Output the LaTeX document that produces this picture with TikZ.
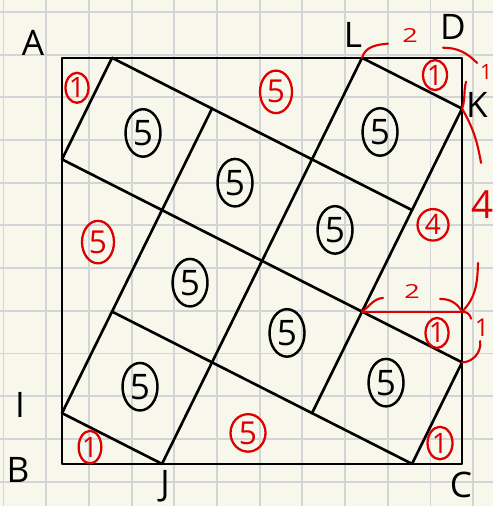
\documentclass[tikz,border=0pt]{standalone}
\usepackage{fontspec}
\setmainfont{Open Sans}
\usepackage{xcolor}
\usepackage{tikz}
\usetikzlibrary{positioning, shapes.geometric}
\definecolor{paper}{RGB}{248,247,235}
\definecolor{gridgray}{RGB}{212,212,214}
\definecolor{penred}{RGB}{222,0,0}

\begin{document}
\begin{tikzpicture}[x=1cm, y=1.015cm,
    pen/.style={line width=1.5pt, line cap=round, line join=round},
    redpen/.style={draw=penred, line width=1.2pt, line cap=round},
    gridline/.style={draw=gridgray, line width=1.1pt},
    lbl/.style={font=\fontsize{20}{20}\selectfont, inner sep=1pt},
    ring/.style={draw, ellipse, line width=1.4pt, inner sep=0pt, minimum width=0.7cm, minimum height=0.95cm, font=\fontsize{20}{20}\selectfont},
    redring/.style={draw=penred, text=penred, ellipse, line width=1.3pt, inner sep=0pt, font=\fontsize{16}{16}\selectfont},
    redtxt/.style={text=penred, inner sep=0pt}]
                \fill[paper] (-1.24,-0.83) rectangle (8.62,9.14);
                \useasboundingbox (-1.24,-0.83) rectangle (8.62,9.14);
                \foreach \k in {0,...,11} \draw[gridline] ({-1.17+0.854*\k},-0.83) -- ++(0,9.97);
                \foreach \k in {0,...,11} \draw[gridline] (-1.24,{8.906-0.8414*\k}) -- ++(9.86,0);

                % corners and points on the sides
                \coordinate (A) at (0,8);
                \coordinate (B) at (0,0);
                \coordinate (C) at (8,0);
                \coordinate (D) at (8,8);
                \coordinate (L) at (6,8);
                \coordinate (K) at (8,7);
                \coordinate (I) at (0,1);
                \coordinate (J) at (2,0);
                \coordinate (p18) at (1,8);
                \coordinate (p06) at (0,6);
                \coordinate (p82) at (8,2);
                \coordinate (p70) at (7,0);
                % inner points
                \coordinate (p75) at (7,5);
                \coordinate (p13) at (1,3);
                \coordinate (p37) at (3,7);
                \coordinate (p51) at (5,1);
                \coordinate (p63) at (6,3);
                \coordinate (q83) at (8,3);

                \draw[pen] (A) rectangle (C);
                \draw[pen] (p18) -- (p75);
                \draw[pen] (p06) -- (p82);
                \draw[pen] (p13) -- (p70);
                \draw[pen] (I) -- (J);
                \draw[pen] (L) -- (K);
                \draw[pen] (p06) -- (p18);
                \draw[pen] (I) -- (p37);
                \draw[pen] (J) -- (L);
                \draw[pen] (p51) -- (K);
                \draw[pen] (p70) -- (p82);

                \node[lbl] (labA) at (-0.58,8.30) {A};
                \node[lbl] (labL) at (5.82,8.45) {L};
                \node[lbl] (labD) at (7.82,8.61) {D};
                \node[lbl] (labK) at (8.30,7.07) {K};
                \node[lbl] (labI) at (-0.84,1.16) {I};
                \node[lbl] (labB) at (-0.88,-0.12) {B};
                \node[lbl] (labJ) at (2.06,-0.45) {J};
                \node[lbl] (labC) at (7.98,-0.42) {C};

                % squares of area 5
                \node[ring] (sqa) at (1.62,6.52) {5};
                \node[ring] (sqb) at (3.46,5.54) {5};
                \node[ring] (sqc) at (6.36,6.54) {5};
                \node[ring] (sqd) at (5.46,4.61) {5};
                \node[ring] (sqe) at (2.56,3.57) {5};
                \node[ring] (sqf) at (4.50,2.58) {5};
                \node[ring] (sqg) at (1.56,1.52) {5};
                \node[ring] (sqh) at (6.48,1.60) {5};

                % red areas
                \node[redring, minimum width=0.46cm, minimum height=0.6cm] (triA) at (0.30,7.41) {1};
                \node[redring, minimum width=0.64cm, minimum height=0.85cm, font=\fontsize{18}{18}\selectfont] (topF) at (4.28,7.33) {5};
                \node[redring, minimum width=0.48cm, minimum height=0.6cm] (triD) at (7.46,7.66) {1};
                \node[redring, minimum width=0.64cm, minimum height=0.85cm, font=\fontsize{18}{18}\selectfont] (leftF) at (0.72,4.37) {5};
                \node[redring, minimum width=0.62cm, minimum height=0.63cm] (rightF) at (7.42,4.71) {4};
                \node[redring, minimum width=0.46cm, minimum height=0.6cm] (triR) at (7.50,2.58) {1};
                \node[redring, minimum width=0.7cm, minimum height=0.75cm, font=\fontsize{18}{18}\selectfont] (botF) at (3.72,0.61) {5};
                \node[redring, minimum width=0.5cm, minimum height=0.65cm] (triC) at (7.56,0.41) {1};
                \node[redring, minimum width=0.42cm, minimum height=0.65cm] (triB) at (0.56,0.33) {1};

                % lengths
                \node[redtxt, font=\fontsize{11}{11}\selectfont, xscale=1.4] (lenLD) at (6.96,8.45) {2};
                \node[redtxt, font=\fontsize{12}{12}\selectfont] (lenDK) at (8.48,7.72) {1};
                \node[redtxt, font=\fontsize{22}{22}\selectfont] (lenK4) at (8.42,5.10) {4};
                \node[redtxt, font=\fontsize{11}{11}\selectfont, xscale=1.4] (len2) at (7.00,3.39) {2};
                \node[redtxt, font=\fontsize{14}{14}\selectfont] (len1) at (8.40,2.68) {1};
                \coordinate (ld1) at (6.52,8.28);
                \coordinate (dk0) at (7.62,8.20);
                \coordinate (dk1) at (8.30,7.90);
                \coordinate (dk2) at (8.08,7.53);
                \coordinate (k41) at (8.38,5.93);
                \coordinate (k42) at (8.32,3.96);
                \coordinate (h1) at (6.42,3.27);
                \coordinate (h2) at (7.56,3.25);
                \coordinate (r1) at (8.18,2.86);
                \coordinate (r2) at (8.36,2.42);

                \draw[redpen] (p63) -- (q83);
                \draw[redpen] (L) to[out=75, in=185] (ld1);
                \draw[redpen] (dk0) to[out=0, in=135] (dk1);
                \draw[redpen] (dk2) to[out=-105, in=70] (K);
                \draw[redpen] (K) to[out=-60, in=100] (k41);
                \draw[redpen] (k42) to[out=-92, in=45] (q83);
                \draw[redpen] (p63) to[out=35, in=185] (h1);
                \draw[redpen] (h2) to[out=0, in=120] (q83);
                \draw[redpen] (q83) to[out=0, in=100] (r1);
                \draw[redpen] (r2) to[out=-80, in=0] (p82);
              \end{tikzpicture}
\end{document}
